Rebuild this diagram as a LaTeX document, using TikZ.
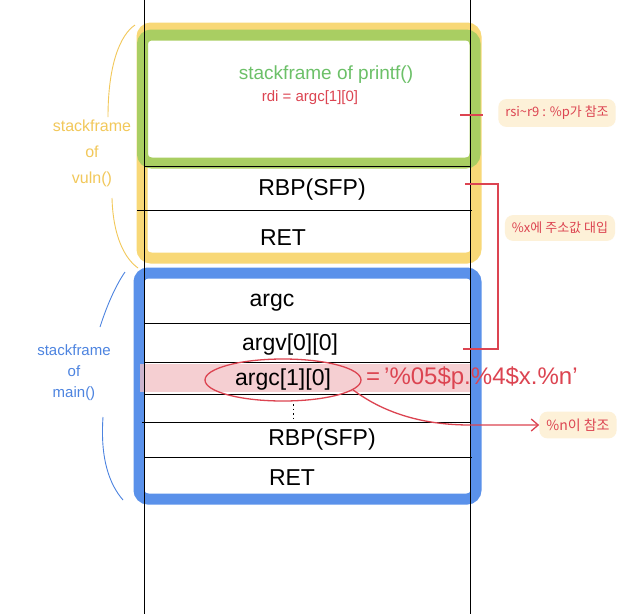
\documentclass[tikz,border=0pt]{standalone}
\usepackage{fontspec}
\setmainfont{Liberation Sans}
\newfontfamily\krfont{Noto Sans CJK KR}
\usetikzlibrary{shapes.geometric,arrows.meta}
\definecolor{fyellow}{HTML}{F8D877}
\definecolor{fgreen}{HTML}{A9CE62}
\definecolor{fblue}{HTML}{5A91EA}
\definecolor{hred}{HTML}{DC4451}
\definecolor{hpink}{HTML}{F2BFC4}
\definecolor{hnote}{HTML}{FDF1D8}
\definecolor{tgreen}{HTML}{6CC068}
\definecolor{tyellow}{HTML}{F2C85A}
\definecolor{tblue}{HTML}{4D84E0}
\tikzset{
  frame/.style={line width=11pt, rounded corners=9pt},
  rowline/.style={black, line width=0.9pt},
  cell/.style={font=\fontsize{23}{26}\selectfont, inner sep=1pt},
  redline/.style={hred, line width=1.3pt},
  note/.style={fill=hnote, rounded corners=8pt, inner sep=7pt, text=hred, font=\krfont\fontsize{13}{15}\selectfont},
  sidelabel/.style={align=center, inner sep=1pt}
}
\begin{document}
\begin{tikzpicture}[x=1pt,y=-1pt]
\useasboundingbox (0,0) rectangle (640,614);
\fill[white] (0,0) rectangle (640,614);

% frames
\draw[frame, draw=fyellow] (142,28) rectangle (476,258);
\draw[frame, draw=fgreen] (142.5,35) rectangle (475,163);
\draw[frame, draw=fblue] (139,273) rectangle (476,499);

% highlighted row
\fill[hpink, opacity=0.75] (140,364) rectangle (470,392);

% vertical stack edges
\draw[rowline] (144,0) -- (144,614);
\draw[rowline] (470,0) -- (470,614);

% row separators
\draw[rowline] (145,166) -- (470,166);
\draw[rowline] (137,210) -- (472,210);
\draw[rowline] (145,323) -- (470,323);
\draw[rowline] (145,362) -- (470,362);
\draw[rowline] (145,394) -- (470,394);
\draw[rowline] (142,422) -- (470,422);
\draw[rowline] (145,457) -- (472,457);

% printf frame text
\node[text=tgreen, font=\fontsize{19}{21}\selectfont] (pf) at (326,75) {stackframe of printf()};
\node[text=hred, font=\fontsize{15}{17}\selectfont] (rdi) at (310,98) {rdi = argc[1][0]};

% cells
\node[cell] (rbp1) at (312,190) {RBP(SFP)};
\node[cell] (ret1) at (283,238) {RET};
\node[cell] (argc) at (272,303) {argc};
\node[cell] (argv) at (290,345) {argv[0][0]};
\node[cell, ellipse, draw=hred, line width=1.3pt, minimum width=156pt, minimum height=42pt, inner sep=2pt] (a10) at (283,380) {argc[1][0]};
\node[anchor=west, text=hred, font=\fontsize{24}{26}\selectfont, inner sep=1pt] (fmt) at (365,378) {=\,'\%05\$p.\%4\$x.\%n'};
\coordinate (dotA) at (293,404);
\coordinate (dotB) at (293,418);
\draw[black, line width=1pt, dash pattern=on 1.5pt off 3pt] (dotA) -- (dotB);
\node[cell] (rbp2) at (322,440) {RBP(SFP)};
\node[cell] (ret2) at (292,478) {RET};

% side labels
\node[sidelabel, text=tyellow, font=\fontsize{16}{26}\selectfont] (vuln) at (92,153) {stackframe\\of\\vuln()};
\node[sidelabel, text=tblue, font=\fontsize{15}{21}\selectfont] (mainl) at (74,373) {stackframe\\of\\main()};
\coordinate (vu1) at (108,117);
\coordinate (vu2) at (135,25);
\coordinate (vl1) at (112,198);
\coordinate (vl2) at (138,268);
\draw[tyellow, line width=0.9pt] (vu1) .. controls (108,65) and (120,35) .. (vu2);
\draw[tyellow, line width=0.9pt] (vl1) .. controls (113,235) and (124,258) .. (vl2);
\coordinate (mu1) at (100,327);
\coordinate (mu2) at (125,272);
\coordinate (ml1) at (103,417);
\coordinate (ml2) at (123,500);
\draw[tblue, line width=0.9pt] (mu1) .. controls (107,305) and (116,285) .. (mu2);
\draw[tblue, line width=0.9pt] (ml1) .. controls (100,460) and (110,485) .. (ml2);

% annotations
\node[note] (rsi) at (557,113) {rsi\textasciitilde r9 : \%p가 참조};
\node[note] (xaddr) at (560,228) {\%x에 주소값 대입};
\node[note, font=\krfont\fontsize{14}{16}\selectfont] (nref) at (578,425) {\%n이 참조};

% connectors
\coordinate (tickA) at (460,115);
\coordinate (tickB) at (483,115);
\draw[redline] (tickA) -- (tickB);
\coordinate (brA) at (465,184);
\coordinate (brB) at (463,349);
\draw[redline] (brA) -- ++(33,0) |- (brB);
\coordinate (bend) at (470,425);
\draw[redline, -{Straight Barb[length=7pt,width=12pt]}] (a10.-8) .. controls (385,414) and (425,425) .. (bend) -- (nref.west);
\end{tikzpicture}
\end{document}
